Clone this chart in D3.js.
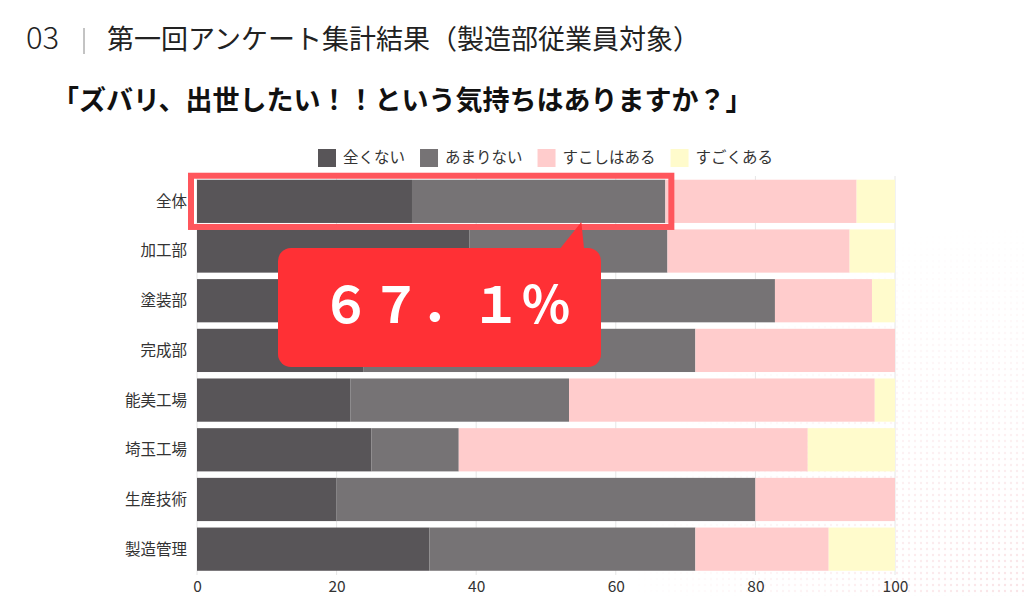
<!DOCTYPE html>
<html>
	<head>
		<meta charset="utf-8">
		<title>出世意欲アンケート</title>
		<script src="https://d3js.org/d3.v7.min.js"></script>
		<style type="text/css">
			body { margin: 0; background: #fff; }
			svg text { font-family: "Noto Sans CJK JP", "Noto Sans", sans-serif; }
		</style>
	</head>
	<body>
		<script type="text/javascript">

			var svgWidth = 1024;
			var svgHeight = 596;

			// データ（グラフから読み取った値・%）
			var categories = ['全体', '加工部', '塗装部', '完成部', '能美工場', '埼玉工場', '生産技術', '製造管理'];
			var seriesNames = ['全くない', 'あまりない', 'すこしはある', 'すごくある'];
			var zenkuNai = [30.8, 39.0, 30.0, 23.8, 22.0, 25.0, 20.0, 33.3];
			var amariNai = [36.3, 28.4, 52.8, 47.6, 31.3, 12.5, 60.0, 38.1];
			var sukoshiAru = [27.4, 26.1, 13.9, 28.6, 43.8, 50.0, 20.0, 19.1];
			var sugokuAru = [5.5, 6.5, 3.3, 0, 2.9, 12.5, 0, 9.5];
			var xTicks = [0, 20, 40, 60, 80, 100];
			var highlightValue = 67.1;
			var calloutText = '６７．１％';

			var colors = ['#585558', '#767375', '#ffcccc', '#fffbcc'];

			var rows = categories.map(function(c, i) {
				return {
					cat: c,
					'全くない': zenkuNai[i],
					'あまりない': amariNai[i],
					'すこしはある': sukoshiAru[i],
					'すごくある': sugokuAru[i]
				};
			});

			var stack = d3.stack().keys(seriesNames);
			var layers = stack(rows);

			var xScale = d3.scaleLinear()
				.domain([0, 100])
				.range([197, 895]);

			var yScale = d3.scaleBand()
				.domain(categories)
				.range([176.5, 574])
				.paddingInner(0.13)
				.paddingOuter(0.065);

			var colorScale = d3.scaleOrdinal()
				.domain(seriesNames)
				.range(colors);

			var svg = d3.select('body')
				.append('svg')
				.attr('width', svgWidth)
				.attr('height', svgHeight);

			// 背景の網点（右下）
			var defs = svg.append('defs');
			var pat = defs.append('pattern')
				.attr('id', 'dots')
				.attr('width', 6)
				.attr('height', 6)
				.attr('patternUnits', 'userSpaceOnUse');
			pat.append('circle').attr('cx', 3).attr('cy', 3).attr('r', 1.2).attr('fill', '#f6d2d7');
			var grad = defs.append('radialGradient')
				.attr('id', 'fade')
				.attr('gradientUnits', 'userSpaceOnUse')
				.attr('cx', 1010).attr('cy', 600).attr('r', 380);
			grad.append('stop').attr('offset', '0%').attr('stop-color', '#fff').attr('stop-opacity', 0.6);
			grad.append('stop').attr('offset', '100%').attr('stop-color', '#fff').attr('stop-opacity', 0);
			defs.append('mask').attr('id', 'fadeMask')
				.append('rect').attr('width', svgWidth).attr('height', svgHeight).attr('fill', 'url(#fade)');
			svg.append('rect')
				.attr('width', svgWidth)
				.attr('height', svgHeight)
				.attr('fill', 'url(#dots)')
				.attr('mask', 'url(#fadeMask)');

			// 見出し
			svg.append('text')
				.attr('x', 26).attr('y', 49)
				.attr('font-size', '31px')
				.attr('font-weight', 300)
				.attr('fill', '#222')
				.text('03');
			svg.append('line')
				.attr('x1', 84).attr('x2', 84)
				.attr('y1', 28).attr('y2', 54)
				.attr('stroke', '#888').attr('stroke-width', 1);
			svg.append('text')
				.attr('x', 107).attr('y', 49)
				.attr('font-size', '27px')
				.attr('fill', '#222')
				.text('第一回アンケート集計結果（製造部従業員対象）');
			svg.append('text')
				.attr('x', 52).attr('y', 110)
				.attr('font-size', '27px')
				.attr('font-weight', 'bold')
				.attr('fill', '#111')
				.text('「ズバリ、出世したい！！という気持ちはありますか？」');

			// 凡例
			var legend = svg.append('g');
			var lx = 318;
			seriesNames.forEach(function(name, i) {
				legend.append('rect')
					.attr('x', lx).attr('y', 149)
					.attr('width', 18).attr('height', 18)
					.attr('fill', colorScale(name));
				var t = legend.append('text')
					.attr('x', lx + 25).attr('y', 158)
					.attr('dy', '0.35em')
					.attr('font-size', '15.5px')
					.attr('fill', '#333')
					.text(name);
				lx = lx + 25 + t.node().getComputedTextLength() + 15;
			});

			// 目盛線
			svg.append('g')
				.selectAll('line')
				.data(xTicks)
				.enter()
				.append('line')
				.attr('x1', function(d) { return xScale(d); })
				.attr('x2', function(d) { return xScale(d); })
				.attr('y1', 176)
				.attr('y2', 575)
				.attr('stroke', '#e6e6e6')
				.attr('stroke-width', 1);

			// 棒
			svg.append('g')
				.selectAll('g')
				.data(layers)
				.enter()
				.append('g')
				.attr('fill', function(d) { return colorScale(d.key); })
				.selectAll('rect')
				.data(function(d) { return d; })
				.enter()
				.append('rect')
				.attr('x', function(d) { return xScale(d[0]); })
				.attr('y', function(d) { return yScale(d.data.cat); })
				.attr('width', function(d) { return xScale(d[1]) - xScale(d[0]); })
				.attr('height', yScale.bandwidth());

			// Y軸ラベル
			svg.append('g')
				.selectAll('text')
				.data(categories)
				.enter()
				.append('text')
				.attr('x', 187)
				.attr('y', function(d) { return yScale(d) + yScale.bandwidth() / 2; })
				.attr('dy', '0.35em')
				.attr('text-anchor', 'end')
				.attr('font-size', '15.5px')
				.attr('fill', '#333')
				.text(function(d) { return d; });

			// X軸
			var xAxis = d3.axisBottom(xScale)
				.tickValues(xTicks)
				.tickSize(0)
				.tickPadding(7);
			var gx = svg.append('g')
				.attr('transform', 'translate(0,' + 574 + ')')
				.call(xAxis);
			gx.select('.domain').remove();
			gx.selectAll('text')
				.attr('font-size', '15.5px')
				.attr('font-family', '"Noto Sans CJK JP", sans-serif')
				.attr('fill', '#333');

			// 強調枠（全体）
			var hy = yScale('全体');
			svg.append('rect')
				.attr('x', xScale(0) - 6)
				.attr('y', hy - 4)
				.attr('width', xScale(highlightValue) - xScale(0) + 12)
				.attr('height', yScale.bandwidth() + 8)
				.attr('fill', 'none')
				.attr('stroke', '#ff565c')
				.attr('stroke-width', 6);

			// 吹き出し
			var tipX = xScale(highlightValue) - 84;
			var callout = svg.append('g');
			callout.append('path')
				.attr('d', 'M' + (tipX - 24) + ',252 L' + tipX + ',' + (hy + yScale.bandwidth() - 1) + ' L' + (tipX + 3) + ',252 Z')
				.attr('fill', '#ff3035');
			callout.append('rect')
				.attr('x', 278).attr('y', 248)
				.attr('width', 323).attr('height', 119)
				.attr('rx', 13).attr('ry', 13)
				.attr('fill', '#ff3035');
			callout.append('text')
				.attr('x', 446).attr('y', 323)
				.attr('text-anchor', 'middle')
				.attr('font-size', '50px')
				.attr('font-weight', 'bold')
				.attr('fill', '#fff')
				.text(calloutText);

		</script>
	</body>
</html>
